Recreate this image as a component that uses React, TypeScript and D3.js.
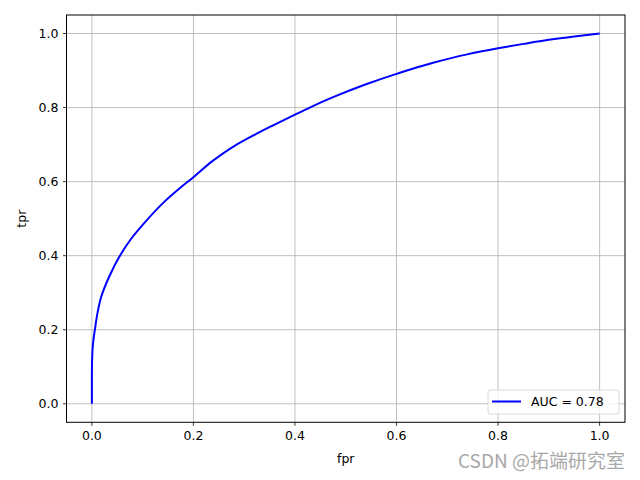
import React from "react";
import * as d3 from "d3";

const fpr = [0, 0, 0.001, 0.003, 0.006, 0.011, 0.018, 0.034, 0.054, 0.077, 0.103, 0.143, 0.173, 0.2, 0.238, 0.278, 0.317, 0.357, 0.4, 0.429, 0.475, 0.54, 0.6, 0.672, 0.737, 0.8, 0.85, 0.9, 0.95, 1.0];
const tpr = [0, 0.08, 0.14, 0.172, 0.201, 0.245, 0.287, 0.343, 0.397, 0.445, 0.488, 0.546, 0.582, 0.612, 0.656, 0.694, 0.724, 0.752, 0.781, 0.8, 0.828, 0.863, 0.891, 0.921, 0.943, 0.96, 0.972, 0.983, 0.992, 1.0];
const xTicks = [0, 0.2, 0.4, 0.6, 0.8, 1.0];
const yTicks = [0, 0.2, 0.4, 0.6, 0.8, 1.0];
const legendLabel = "AUC = 0.78";
const xLabel = "fpr";
const yLabel = "tpr";
const watermark = "CSDN @拓端研究室";

export default function App() {
  const W = 640, H = 480;
  const L = 66.5, R = 625, T = 15, B = 422.3;
  const x = d3.scaleLinear().domain([-0.05, 1.05]).range([L, R]);
  const y = d3.scaleLinear().domain([-0.05, 1.05]).range([B, T]);
  const pts = fpr.map((f, i) => [f, tpr[i]] as [number, number]);
  const line = d3.line<[number, number]>().x(d => x(d[0])).y(d => y(d[1])).curve(d3.curveMonotoneY);
  const font = "DejaVu Sans, sans-serif";
  return (
    <svg width={W} height={H} style={{ position: "absolute", left: 0, top: 0 }} fontFamily={font}>
      <rect width={W} height={H} fill="white" />
      {xTicks.map(t => (
        <line key={"gx" + t} x1={x(t)} x2={x(t)} y1={T} y2={B} stroke="#b0b0b0" strokeWidth={0.8} />
      ))}
      {yTicks.map(t => (
        <line key={"gy" + t} x1={L} x2={R} y1={y(t)} y2={y(t)} stroke="#b0b0b0" strokeWidth={0.8} />
      ))}
      <path d={line(pts) || ""} fill="none" stroke="#0000ff" strokeWidth={2} strokeLinejoin="round" />
      <rect x={L} y={T} width={R - L} height={B - T} fill="none" stroke="black" strokeWidth={1} />
      {xTicks.map(t => (
        <g key={"tx" + t}>
          <line x1={x(t)} x2={x(t)} y1={B} y2={B + 3.5} stroke="black" strokeWidth={0.8} />
          <text x={x(t)} y={B + 18} textAnchor="middle" fontSize={12.5} fill="black">{t.toFixed(1)}</text>
        </g>
      ))}
      {yTicks.map(t => (
        <g key={"ty" + t}>
          <line x1={L - 3.5} x2={L} y1={y(t)} y2={y(t)} stroke="black" strokeWidth={0.8} />
          <text x={L - 8} y={y(t)} dy="0.36em" textAnchor="end" fontSize={12.5} fill="black">{t.toFixed(1)}</text>
        </g>
      ))}
      <text x={(L + R) / 2} y={463} textAnchor="middle" fontSize={12.5} fill="black">{xLabel}</text>
      <text transform={`translate(26,${(T + B) / 2}) rotate(-90)`} textAnchor="middle" fontSize={12.5} fill="black">{yLabel}</text>
      <g>
        <rect x={488} y={390} width={131} height={24} rx={2} fill="white" fillOpacity={0.8} stroke="#d0d0d0" strokeWidth={0.8} />
        <line x1={492} x2={521} y1={401.5} y2={401.5} stroke="#0000ff" strokeWidth={2} />
        <text x={531} y={401.5} dy="0.36em" fontSize={12.5} fill="black">{legendLabel}</text>
      </g>
      <text x={625} y={468} textAnchor="end" fontSize={19} fill="#a8a8a8" fontFamily="Noto Sans CJK SC, DejaVu Sans, sans-serif">{watermark}</text>
    </svg>
  );
}
